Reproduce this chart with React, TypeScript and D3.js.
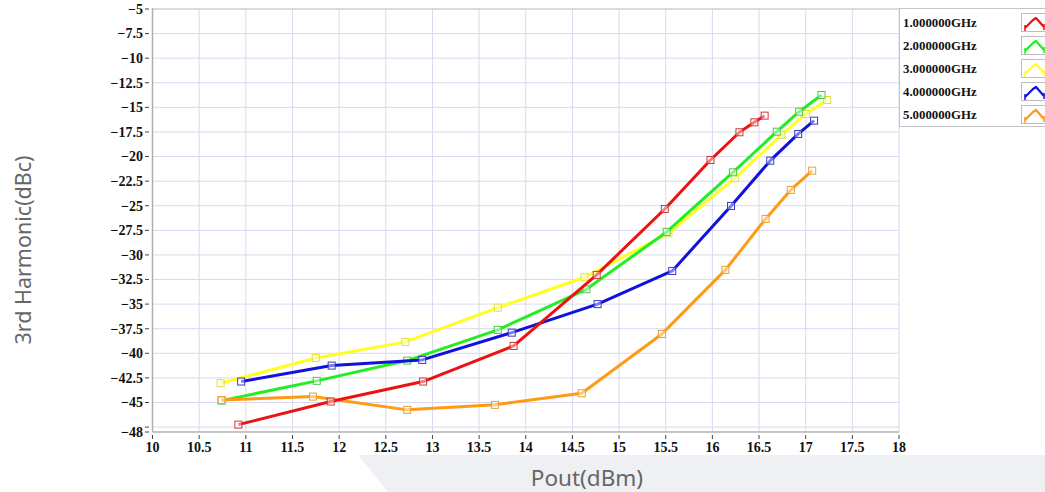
import React from "react";
import * as d3 from "d3";

const xTicks = [10, 10.5, 11, 11.5, 12, 12.5, 13, 13.5, 14, 14.5, 15, 15.5, 16, 16.5, 17, 17.5, 18];
const yGrid = [-5, -7.5, -10, -12.5, -15, -17.5, -20, -22.5, -25, -27.5, -30, -32.5, -35, -37.5, -40, -42.5, -45, -47.5];
const yLabels = [-5, -7.5, -10, -12.5, -15, -17.5, -20, -22.5, -25, -27.5, -30, -32.5, -35, -37.5, -40, -42.5, -45, -48];

const seriesNames = ["1.000000GHz", "2.000000GHz", "3.000000GHz", "4.000000GHz", "5.000000GHz"];
const lineColors = ["#ee1111", "#22ee22", "#ffff22", "#1111dd", "#ff9a14"];
const markerColors = ["#c83a3a", "#4cc84c", "#e0e040", "#3838c8", "#e8a030"];

const x1 = [10.92, 11.91, 12.9, 13.87, 14.76, 15.49, 15.98, 16.29, 16.45, 16.56];
const y1 = [-47.25, -44.9, -42.87, -39.25, -32.03, -25.33, -20.35, -17.53, -16.52, -15.84];
const x2 = [10.74, 11.76, 12.73, 13.7, 14.65, 15.51, 16.22, 16.69, 16.93, 17.17];
const y2 = [-44.81, -42.8, -40.74, -37.62, -33.49, -27.66, -21.6, -17.47, -15.44, -13.74];
const x3 = [10.73, 11.75, 12.71, 13.7, 14.63, 15.53, 16.24, 16.74, 17.0, 17.23];
const y3 = [-43.04, -40.47, -38.84, -35.36, -32.27, -27.8, -22.2, -17.8, -15.67, -14.25];
const x4 = [10.95, 11.92, 12.89, 13.85, 14.77, 15.57, 16.2, 16.62, 16.92, 17.09];
const y4 = [-42.87, -41.25, -40.67, -37.9, -35.0, -31.63, -25.02, -20.42, -17.7, -16.35];
const x5 = [10.74, 11.72, 12.73, 13.67, 14.6, 15.46, 16.14, 16.57, 16.84, 17.07];
const y5 = [-44.75, -44.4, -45.75, -45.24, -44.06, -38.03, -31.52, -26.34, -23.39, -21.43];

const xs = [x1, x2, x3, x4, x5];
const ys = [y1, y2, y3, y4, y5];
const drawOrder = [2, 1, 3, 4, 0];

const fmt = (v: number) => (v < 0 ? "\u2212" + String(-v) : String(v));

export default function App() {
  const W = 1045;
  const H = 492;
  const x = d3.scaleLinear().domain([10, 18]).range([152.5, 899]);
  const y = d3.scaleLinear().domain([-48, -5]).range([432, 9]);
  const line = d3
    .line<[number, number]>()
    .x((d) => x(d[0]))
    .y((d) => y(d[1]));

  const tickFont = "'Liberation Serif', 'DejaVu Serif', serif";
  const legendY = [23, 46, 69, 92, 115];

  return (
    <svg width={W} height={H} style={{ position: "absolute", left: 0, top: 0, background: "#fff" }}>
      <polygon points="358,455 1045,455 1045,492 388,492" fill="#eff0f4" />
      {/* grid */}
      {xTicks.map((t) => (
        <line key={"gx" + t} x1={x(t)} x2={x(t)} y1={y(-5)} y2={y(-48)} stroke="#d9d9f0" strokeWidth={1} />
      ))}
      {yGrid.map((t) => (
        <line key={"gy" + t} x1={x(10)} x2={x(18)} y1={y(t)} y2={y(t)} stroke="#d9d9f0" strokeWidth={1} />
      ))}
      {/* axes */}
      <line x1={x(10)} x2={x(10)} y1={y(-5) - 1} y2={y(-48)} stroke="#b0b0b0" strokeWidth={1.5} />
      <line x1={x(10)} x2={x(18)} y1={y(-48)} y2={y(-48)} stroke="#b0b0b0" strokeWidth={1.5} />
      <line x1={x(10)} x2={x(18)} y1={y(-5)} y2={y(-5)} stroke="#c8c8c8" strokeWidth={1} />
      {/* y ticks */}
      {[...yGrid, -48].map((t) => (
        <line key={"ty" + t} x1={145} x2={149} y1={y(t)} y2={y(t)} stroke="#444" strokeWidth={1} />
      ))}
      {yLabels.map((t) => (
        <text
          key={"ly" + t}
          x={143}
          y={y(t)}
          dy="0.35em"
          textAnchor="end"
          fontFamily={tickFont}
          fontWeight="bold"
          fontSize={14}
          fill="#111"
        >
          {fmt(t)}
        </text>
      ))}
      {/* x ticks */}
      {xTicks.map((t) => (
        <line key={"tx" + t} x1={x(t)} x2={x(t)} y1={435} y2={439} stroke="#444" strokeWidth={1} />
      ))}
      {xTicks.map((t) => (
        <text
          key={"lx" + t}
          x={x(t)}
          y={452}
          textAnchor="middle"
          fontFamily={tickFont}
          fontWeight="bold"
          fontSize={14}
          fill="#111"
        >
          {String(t)}
        </text>
      ))}
      {/* series */}
      {drawOrder.map((i) => {
        const pts: [number, number][] = xs[i].map((v, k) => [v, ys[i][k]]);
        return (
          <g key={"s" + i}>
            <path d={line(pts) || ""} fill="none" stroke={lineColors[i]} strokeWidth={3} strokeLinejoin="round" />
            {pts.map((p, k) => (
              <rect
                key={k}
                x={x(p[0]) - 3.5}
                y={y(p[1]) - 3.5}
                width={7}
                height={7}
                fill="rgba(255,255,255,0.45)"
                stroke={markerColors[i]}
                strokeWidth={1}
              />
            ))}
          </g>
        );
      })}
      {/* legend */}
      <rect x={899.5} y={8.5} width={150} height={118} fill="#fff" stroke="#c4c4c4" strokeWidth={1} />
      {seriesNames.map((n, i) => {
        const cy = legendY[i];
        return (
          <g key={"lg" + i}>
            <text
              x={903}
              y={cy}
              dy="0.35em"
              fontFamily={tickFont}
              fontWeight="bold"
              fontSize={12.8}
              fill="#111"
            >
              {n}
            </text>
            <rect x={1021.5} y={cy - 9.5} width={30} height={18} fill="#fff" stroke="#bdbdbd" strokeWidth={1} />
            <polyline
              points={`1025,${cy + 5} 1033,${cy - 3} 1036,${cy - 5} 1044,${cy + 4}`}
              fill="none"
              stroke={lineColors[i]}
              strokeWidth={2.2}
              strokeLinejoin="round"
            />
            <line x1={1025} x2={1025} y1={cy + 2} y2={cy + 8} stroke={lineColors[i]} strokeWidth={1.5} />
            <line x1={1044} x2={1044} y1={cy + 1} y2={cy + 7} stroke={lineColors[i]} strokeWidth={1.5} />
          </g>
        );
      })}
      {/* axis titles */}
      <text
        x={587}
        y={486}
        textAnchor="middle"
        fontFamily="'Noto Sans', sans-serif"
        fontSize={22.5}
        fill="#666"
      >
        Pout(dBm)
      </text>
      <text
        transform="translate(31,250) rotate(-90)"
        textAnchor="middle"
        fontFamily="'Noto Sans', sans-serif"
        fontSize={21.5}
        fill="#666"
      >
        3rd Harmonic(dBc)
      </text>
    </svg>
  );
}
